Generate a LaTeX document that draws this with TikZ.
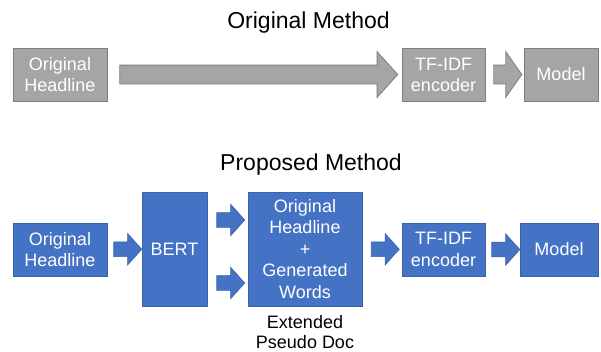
\documentclass[tikz,border=0pt]{standalone}
\usepackage{fontspec}
\setmainfont{Liberation Sans}
\usetikzlibrary{positioning, shapes.arrows, calc}

\definecolor{grayfill}{HTML}{A5A5A5}
\definecolor{grayline}{HTML}{7F7F7F}
\definecolor{bluefill}{HTML}{4472C4}
\definecolor{blueline}{HTML}{3A63AD}

\tikzset{
  graybox/.style={draw=grayline, fill=grayfill, line width=0.8pt, text=white, inner sep=0pt, align=center,
    font=\fontsize{18}{21}\selectfont, minimum height=53pt},
  bluebox/.style={draw=blueline, fill=bluefill, line width=0.6pt, text=white, inner sep=0pt, align=center,
    font=\fontsize{18}{21.5}\selectfont, minimum height=53pt},
  grayarrow/.style={single arrow, draw=grayline, fill=grayfill, line width=0.8pt, inner xsep=0pt, inner ysep=9pt,
    single arrow head extend=13.5pt, single arrow tip angle=110, minimum height=28pt},
  bluearrow/.style={single arrow, draw=blueline, fill=bluefill, line width=0.6pt, inner xsep=0pt, inner ysep=7pt,
    single arrow head extend=8.5pt, single arrow tip angle=96, minimum height=28pt},
  heading/.style={font=\fontsize{23}{27}\selectfont, anchor=base},
}

\begin{document}
\begin{tikzpicture}[x=1pt, y=-1pt]
\useasboundingbox (0,0) rectangle (601,351);

% Original method
\node[heading] (origtitle) at (308.5,28) {Original Method};
\node[graybox, minimum width=94pt] (orighead) at (60,74.5) {Original\\Headline};
\node[graybox, minimum width=83pt] (origtfidf) at (443.5,74.5) {TF-IDF\\encoder};
\node[graybox, minimum width=74pt] (origmodel) at (561,74.5) {Model};

\node[grayarrow, minimum height=278pt, single arrow tip angle=96] (origlong) at ($(orighead.east)!0.5!(origtfidf.west)$) {};
\node[grayarrow] (origshort) at ($(origtfidf.east)!0.5!(origmodel.west)$) {};

% Proposed method
\node[heading] (proptitle) at (311,170) {Proposed Method};
\node[bluebox, minimum width=94pt] (prophead) at (60,249.5) {Original\\Headline};
\node[bluebox, minimum width=65pt, minimum height=114pt] (bert) at (174.5,249) {BERT};
\node[bluebox, minimum width=114pt, minimum height=114pt] (pseudo) at (305,249) {Original\\Headline\\+\\Generated\\Words};
\node[bluebox, minimum width=83pt] (proptfidf) at (443.5,249.5) {TF-IDF\\encoder};
\node[bluebox, minimum width=78pt] (propmodel) at (559,249.5) {Model};

\node[below=9pt of pseudo, align=center, inner sep=0pt, font=\fontsize{18}{20}\selectfont] (extlabel) {Extended\\Pseudo Doc};

% Block arrows
\node[bluearrow] (arrowbert) at ($(prophead.east)!0.5!(bert.west)$) {};
\node[bluearrow, yshift=29pt] (arrowup) at ($(bert.east)!0.5!(pseudo.west)$) {};
\node[bluearrow, yshift=-34pt] (arrowdown) at ($(bert.east)!0.5!(pseudo.west)$) {};
\node[bluearrow] (arrowtfidf) at ($(pseudo.east)!0.5!(proptfidf.west)$) {};
\node[bluearrow] (arrowmodel) at ($(proptfidf.east)!0.5!(propmodel.west)$) {};

\end{tikzpicture}
\end{document}
